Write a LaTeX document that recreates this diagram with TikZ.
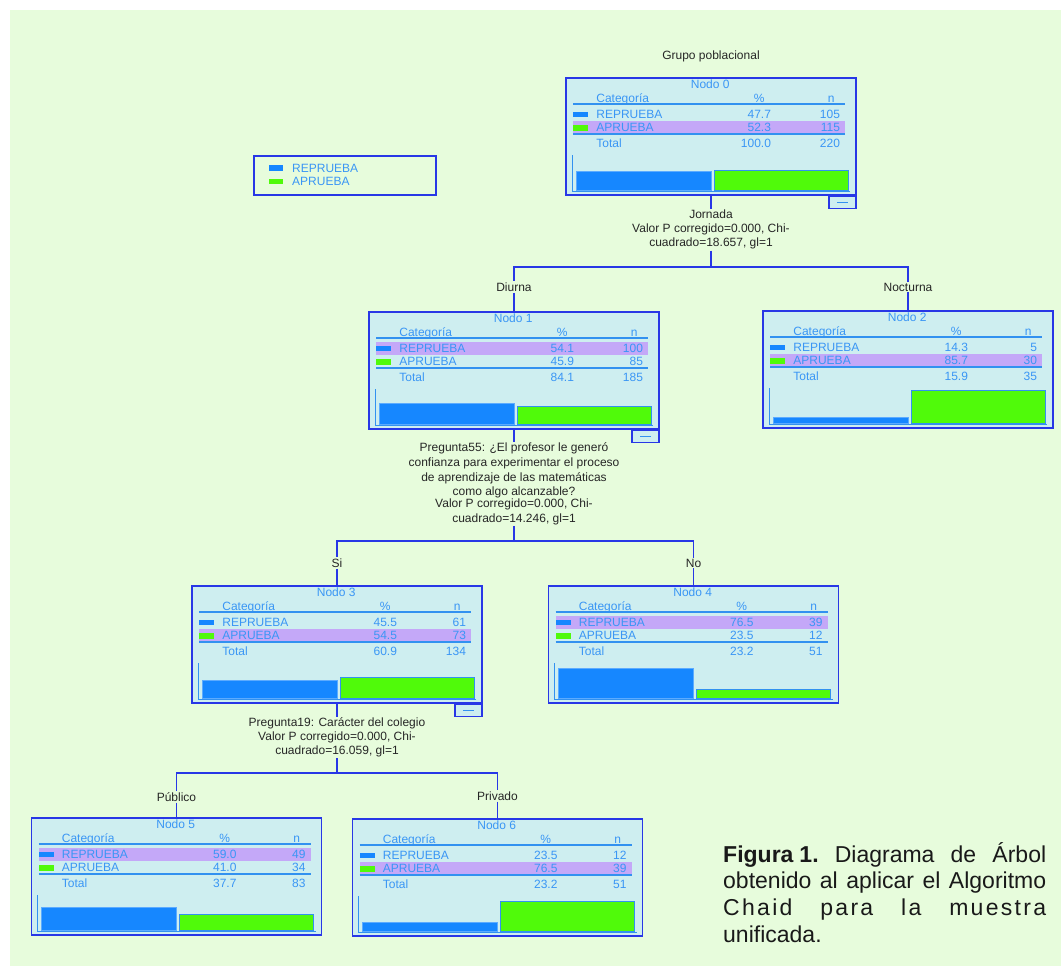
\documentclass[tikz,border=0pt]{standalone}
\usepackage{fontspec}
\setmainfont{Liberation Sans}
\usetikzlibrary{positioning}

\definecolor{bggreen}{RGB}{231,252,220}
\definecolor{boxfill}{RGB}{206,238,240}
\definecolor{boxline}{RGB}{40,55,230}
\definecolor{txtblue}{RGB}{58,150,245}
\definecolor{hilite}{RGB}{196,168,248}
\definecolor{repblue}{RGB}{22,135,255}
\definecolor{aprgreen}{RGB}{80,250,10}
\definecolor{barline}{RGB}{50,145,240}

% one tree node: name, centre x, top y, number, reprueba % / n, aprueba % / n, total %
\newcommand{\chaidbox}[9]{%
  \node[treebox] (#1) at (#2,#3) {};
  \pgfmathtruncatemacro{\totaln}{#6+#8}%
  \begin{scope}[shift={(#1.north west)}]
    \ifdim #5pt>#7pt
      \fill[hilite] (8,30.5) rectangle (280,43.5);
    \else
      \fill[hilite] (8,44) rectangle (280,57);
    \fi
    \node[celltxt] (#1-title) at (145,7.5) {Nodo #4};
    \node[celltxt, anchor=west] (#1-cat) at (31,21) {Categoría};
    \node[celltxt] (#1-pct) at (194,21) {\%};
    \node[celltxt] (#1-n) at (266,21) {n};
    \draw[rowrule] (8,27) -- (280,27);
    \fill[repblue] (8,34.5) rectangle (23,40);
    \node[celltxt, anchor=west] (#1-rep) at (31,37) {REPRUEBA};
    \node[celltxt, anchor=east] (#1-repp) at (206,37) {#5};
    \node[celltxt, anchor=east] (#1-repn) at (275,37) {#6};
    \fill[aprgreen] (8,48) rectangle (23,53.5);
    \node[celltxt, anchor=west] (#1-apr) at (31,50.5) {APRUEBA};
    \node[celltxt, anchor=east] (#1-aprp) at (206,50.5) {#7};
    \node[celltxt, anchor=east] (#1-aprn) at (275,50.5) {#8};
    \draw[rowrule] (8,57) -- (280,57);
    \node[celltxt, anchor=west] (#1-tot) at (31,66) {Total};
    \node[celltxt, anchor=east] (#1-totp) at (206,66) {#9};
    \node[celltxt, anchor=east] (#1-totn) at (275,66) {\totaln};
    \draw[axisline] (7,78) -- (7,114) -- (285,114);
    \filldraw[repbar] (11,113) rectangle (146,{113-0.38*#5});
    \filldraw[aprbar] (149,113) rectangle (283,{113-0.38*#7});
  \end{scope}
}

\begin{document}
\begin{tikzpicture}[
  x=1pt, y=-1pt,
  font=\fontsize{12}{14}\selectfont,
  treebox/.style={rectangle, draw=boxline, line width=1.6pt, fill=boxfill, minimum width=290pt, minimum height=117pt, anchor=north, inner sep=0pt},
  celltxt/.style={inner sep=0pt, text height=8.6pt, text depth=0pt, text=txtblue},
  rowrule/.style={draw=barline, line width=1.3pt},
  axisline/.style={draw=barline, line width=1pt},
  repbar/.style={fill=repblue, draw=repblue!70!white, line width=1pt},
  aprbar/.style={fill=aprgreen, draw=barline, line width=1pt},
  minusbox/.style={rectangle, draw=boxline, line width=1.4pt, fill=boxfill, minimum width=27pt, minimum height=12pt, inner sep=0pt, anchor=north east},
  split/.style={align=center, text=black!85, inner sep=1pt},
  branch/.style={text=black!85, inner sep=1pt},
  link/.style={draw=boxline, line width=1.6pt},
  legendbox/.style={rectangle, draw=boxline, line width=1.6pt, minimum width=182pt, minimum height=39pt, inner sep=0pt, anchor=north west},
  caption/.style={anchor=north west, inner sep=0pt, text width=323pt, align=left, font=\fontsize{23}{26.7}\selectfont, text=black!90}
]
\fill[bggreen] (10,10) rectangle (1061,966);
\useasboundingbox (0,0) rectangle (1061,966);

% ----- legend -----
\node[legendbox] (legend) at (253,155) {};
\fill[repblue] (269,165) rectangle (283,170.5);
\node[celltxt, anchor=west] (leg-rep) at (292,168) {REPRUEBA};
\fill[aprgreen] (269,178.5) rectangle (283,184);
\node[celltxt, anchor=west] (leg-apr) at (292,181) {APRUEBA};

% ----- tree nodes -----
\node[split] (target) at (711,56) {Grupo poblacional};
\chaidbox{n0}{711}{77}{0}{47.7}{105}{52.3}{115}{100.0}
\chaidbox{n1}{514}{311}{1}{54.1}{100}{45.9}{85}{84.1}
\chaidbox{n2}{908}{310}{2}{14.3}{5}{85.7}{30}{15.9}
\chaidbox{n3}{337}{585}{3}{45.5}{61}{54.5}{73}{60.9}
\chaidbox{n4}{693.5}{585}{4}{76.5}{39}{23.5}{12}{23.2}
\chaidbox{n5}{176.5}{817}{5}{59.0}{49}{41.0}{34}{37.7}
\chaidbox{n6}{497.5}{818}{6}{23.5}{12}{76.5}{39}{23.2}
\node[minusbox] (n0-m) at (n0.south east) {\textcolor{barline}{\rule{11pt}{1.5pt}}};
\node[minusbox] (n1-m) at (n1.south east) {\textcolor{barline}{\rule{11pt}{1.5pt}}};
\node[minusbox] (n3-m) at (n3.south east) {\textcolor{barline}{\rule{11pt}{1.5pt}}};

% ----- split on Jornada -----
\node[split, below=13.5pt of n0] (s0) {Jornada\\Valor P corregido=0.000, Chi-\\cuadrado=18.657, gl=1};
\coordinate (j0) at (711,267);
\node[branch] (diurna) at (514,287) {Diurna};
\node[branch] (nocturna) at (908,287) {Nocturna};
\draw[link] (n0.south) -- (s0.north);
\draw[link] (s0.south) -- (j0) -| (diurna.north);
\draw[link] (j0) -| (nocturna.north);
\draw[link] (diurna.south) -- (n1.north);
\draw[link] (nocturna.south) -- (n2.north);

% ----- split on Pregunta55 -----
\node[split, below=12pt of n1, font=\fontsize{12}{14.7}\selectfont] (s1) {Pregunta55: ¿El profesor le generó\\confianza para experimentar el proceso\\de aprendizaje de las matemáticas\\como algo alcanzable?\\[-3pt]Valor P corregido=0.000, Chi-\\cuadrado=14.246, gl=1};
\coordinate (j1) at (514,541);
\node[branch] (si) at (337,563) {Si};
\node[branch] (no) at (693.5,563) {No};
\draw[link] (n1.south) -- (s1.north);
\draw[link] (s1.south) -- (j1) -| (si.north);
\draw[link] (j1) -| (no.north);
\draw[link] (si.south) -- (n3.north);
\draw[link] (no.south) -- (n4.north);

% ----- split on Pregunta19 -----
\node[split, below=13pt of n3] (s3) {Pregunta19: Carácter del colegio\\Valor P corregido=0.000, Chi-\\cuadrado=16.059, gl=1};
\coordinate (j3) at (337,773);
\node[branch] (publico) at (176.5,797) {Público};
\node[branch] (privado) at (497.5,796) {Privado};
\draw[link] (n3.south) -- (s3.north);
\draw[link] (s3.south) -- (j3) -| (publico.north);
\draw[link] (j3) -| (privado.north);
\draw[link] (publico.south) -- (n5.north);
\draw[link] (privado.south) -- (n6.north);

% ----- caption -----
\node[caption] (fig) at (723,842) {\makebox[323pt][s]{\textbf{Figura\hspace{6pt}1.}\hfill Diagrama\hfill de\hfill Árbol}\\
  \makebox[323pt][s]{obtenido\hfill al\hfill aplicar\hfill el\hfill Algoritmo}\\
  \makebox[323pt][s]{\addfontfeature{LetterSpace=10}Chaid\hfill para\hfill la\hfill muestra}\\
  unificada.};
\end{tikzpicture}
\end{document}
